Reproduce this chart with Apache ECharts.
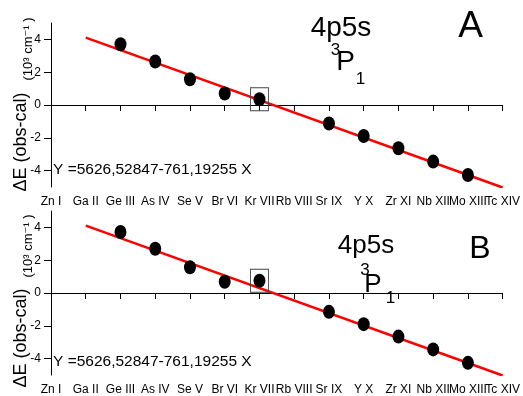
<!DOCTYPE html>
<html>
<head>
<meta charset="utf-8">
<script src="https://cdn.jsdelivr.net/npm/echarts@6/dist/echarts.min.js"></script>
<style>
  html, body { margin: 0; padding: 0; background: #fff; }
  #chart { width: 523px; height: 396px; }
</style>
</head>
<body>
<div id="chart"></div>
<script>
// Isoelectronic sequence along the x axis (X = 1 .. 14)
const ions = ['Zn I', 'Ga II', 'Ge III', 'As IV', 'Se V', 'Br VI', 'Kr VII',
              'Rb VIII', 'Sr IX', 'Y X', 'Zr XI', 'Nb XII', 'Mo XIII', 'Tc XIV'];

// Positions (X) of the ions that have a measured deviation
const measuredX = [3, 4, 5, 6, 7, 9, 10, 11, 12, 13];

// ΔE (obs - cal), 10^3 cm^-1
const deviationA = [3.70, 2.65, 1.57, 0.70, 0.35, -1.13, -1.89, -2.64, -3.45, -4.27];
const deviationB = [3.72, 2.70, 1.57, 0.69, 0.75, -1.15, -1.90, -2.66, -3.44, -4.26];

// Highlighted ion (Kr VII)
const highlightX = 7;

// Linear fit, cm^-1:  Y = intercept + slope * X
const fitIntercept = 5626.52847;
const fitSlope = -761.19255;
const fitRangeX = [2, 14];
const fitLabel = 'Y =5626,52847-761,19255 X';

const yTicks = [-4, -2, 0, 2, 4];
const FONT = '"Liberation Sans", Arial, "DejaVu Sans", sans-serif';

// X is 1-based along the sequence; the category axis is 0-based
const idx = x => x - 1;

function pointsOf(values) {
  return measuredX.map((x, i) => [idx(x), values[i]]);
}
function fitLine() {
  return fitRangeX.map(x => [idx(x), (fitIntercept + fitSlope * x) / 1000]);
}
function highlightOf(values) {
  const i = measuredX.indexOf(highlightX);
  return [[idx(highlightX), values[i]]];
}

const grids = [
  { left: 51, top: 23, width: 455, height: 164 },
  { left: 51, top: 211, width: 455, height: 164 }
];

function xAxisFor(gi) {
  return {
    type: 'category', gridIndex: gi, data: ions, boundaryGap: false,
    axisLine: { show: true, lineStyle: { color: '#000', width: 1 } },
    axisTick: { show: true, length: 6, interval: 0, lineStyle: { color: '#000' } },
    splitLine: { show: false },
    axisLabel: { color: '#000', fontSize: 12, fontFamily: FONT, margin: 9, interval: 0 }
  };
}
function yAxisFor(gi) {
  return {
    type: 'value', gridIndex: gi, min: -5, max: 5,
    axisLine: { show: true, lineStyle: { color: '#000', width: 1 } },
    axisTick: { show: true, length: 7, customValues: yTicks, lineStyle: { color: '#000' } },
    splitLine: { show: false },
    axisLabel: { color: '#000', fontSize: 12, fontFamily: FONT, margin: 10, customValues: yTicks }
  };
}
function seriesFor(gi, values) {
  return [
    {
      type: 'line', xAxisIndex: gi, yAxisIndex: gi, data: fitLine(),
      showSymbol: false, lineStyle: { color: '#ff0000', width: 2.5 }, z: 2, silent: true
    },
    {
      type: 'scatter', xAxisIndex: gi, yAxisIndex: gi, data: highlightOf(values),
      symbol: 'rect', symbolSize: [18, 23],
      itemStyle: { color: 'rgba(0,0,0,0)', borderColor: '#444', borderWidth: 1, opacity: 1 }, z: 3
    },
    {
      type: 'scatter', xAxisIndex: gi, yAxisIndex: gi, data: pointsOf(values),
      symbol: 'circle', symbolSize: [12, 14], itemStyle: { color: '#000', opacity: 1 }, z: 4
    }
  ];
}

function txt(x, y, text, size, extra) {
  return Object.assign({
    type: 'text', x: x, y: y, z: 10,
    style: { text: text, fill: '#000', font: size + 'px ' + FONT, align: 'center', verticalAlign: 'middle' }
  }, extra || {});
}

function panelText(dy, letter, letterPos, letterSize, term) {
  const eq = txt(53, 170 + dy.eq, fitLabel, 15.5);
  eq.style.align = 'left';
  return [
    txt(21, 142 + dy.title, 'ΔE (obs-cal)', 18, { rotation: Math.PI / 2 }),
    txt(28, 49 + dy.units, '(10³ cm⁻¹ )', 13, { rotation: Math.PI / 2 }),
    eq,
    txt(term.cx, term.cy, '4p5s', term.size),
    txt(term.px, term.py, 'P', term.size),
    txt(term.sx, term.sy, '3', 17),
    txt(term.bx, term.by, '1', 17),
    txt(letterPos[0], letterPos[1], letter, letterSize)
  ];
}

const graphics = [].concat(
  panelText({ title: 0, units: 0, eq: 0 }, 'A', [470.5, 27], 37,
    { cx: 341, cy: 28, size: 28, px: 345.5, py: 62, sx: 335.5, sy: 50, bx: 360.5, by: 79 }),
  panelText({ title: 196, units: 197, eq: 192 }, 'B', [480, 249], 32,
    { cx: 366, cy: 246, size: 26, px: 373, py: 285, sx: 365, sy: 270, bx: 390.5, by: 298 })
);

const chart = echarts.init(document.getElementById('chart'), null, { renderer: 'canvas' });
chart.setOption({
  animation: false,
  backgroundColor: '#fff',
  grid: grids,
  xAxis: [xAxisFor(0), xAxisFor(1)],
  yAxis: [yAxisFor(0), yAxisFor(1)],
  series: [].concat(seriesFor(0, deviationA), seriesFor(1, deviationB)),
  graphic: graphics
});
</script>
</body>
</html>
